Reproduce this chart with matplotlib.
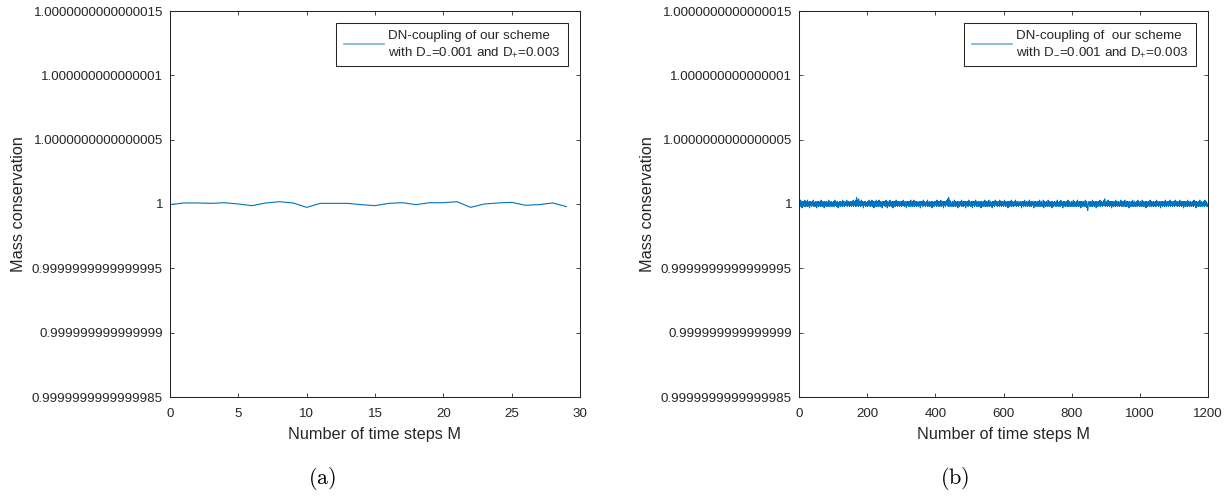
import numpy as np
import matplotlib
matplotlib.use("Agg")
import matplotlib.pyplot as plt

plt.rcParams['font.family'] = ['Liberation Sans', 'DejaVu Sans']
plt.rcParams['mathtext.fontset'] = 'custom'
plt.rcParams['mathtext.rm'] = 'Liberation Sans'
plt.rcParams['mathtext.it'] = 'Liberation Sans:italic'
plt.rcParams['mathtext.bf'] = 'Liberation Sans:bold'

# Mass deviation from 1, in units of 1e-16 (panel a, M = 0..29)
mass_dev_a = [-0.05, 0.08, 0.08, 0.05, 0.10, 0.00, -0.13, 0.08, 0.18, 0.08,
              -0.26, 0.05, 0.05, 0.05, -0.05, -0.13, 0.05, 0.10, -0.05, 0.10,
              0.10, 0.18, -0.26, 0.00, 0.08, 0.13, -0.10, -0.05, 0.08, -0.20]

# Mass deviation from 1, in units of 1e-17 (panel b, M = 0..1200)
mass_dev_b = [
    1, -2, 0, 2, -1, 3, -2, 1, 0, -3, 2, 1, -1, 0, 2, -2, 1, 3, -1, 0, -2, 2, 1, -1, 0, 3, -2, 0, 1, -1, 2, -3, 1, 0, 2, -1, 1, -2, 0, 2, 1, -1, 3, 0, -2, 1, 0, -1, 2, -2,
    0, 1, -3, 2, 0, -1, 1, 2, -2, 0, 1, -1, 2, 0, -2, 3, -1, 0, 1, -2, 2, 1, -1, 0, -3, 1, 2, 0, -1, 1, -2, 2, 0, 1, -1, -2, 1, 3, -1, 0, 2, -2, 1, 0, -1, 2, 1, -2, 0, 1,
    -1, 2, 0, -2, 1, 3, -1, 0, 2, -1, 1, -2, 0, 2, 1, -3, 0, 1, -1, 2, 0, -2, 1, 2, -1, 0, 1, -2, 3, 0, -1, 1, 2, -2, 0, 1, -1, 0, 2, -1, 3, 1, -2, 0, 1, 2, -1, 0, -2, 1,
    2, 0, -1, 1, -2, 2, 1, 0, -1, 3, -2, 1, 0, 2, -1, 1, 3, -2, 2, 5, 1, -1, 3, 2, -2, 4, 0, 1, -1, 2, 0, -2, 1, 3, -1, 0, 2, -1, 1, -3, 0, 2, 1, -1, 0, 2, -2, 1, 0, -1,
    1, -2, 2, 0, -1, 1, 3, -1, 0, -2, 2, 1, -1, 0, 3, -2, 1, 0, 2, -1, -3, 1, 0, 2, -1, 1, -2, 3, 0, 1, -1, 2, -2, 0, 1, 3, -1, 0, -2, 1, 2, -1, 0, 1, -3, 2, 0, -1, 1, 2,
    -1, 0, 2, -2, 1, 3, -1, 2, 0, -3, 1, 2, -1, 0, 1, -2, 2, 3, -1, 0, 1, -2, 0, 2, -1, 1, -3, 2, 0, 1, -1, 2, -2, 1, 0, 3, -1, 0, 2, -2, 1, -1, 0, 2, 1, -2, 0, 1, -1, 2,
    0, -2, 1, 2, -1, 0, 3, -1, 1, -2, 0, 2, 1, -1, 0, -3, 2, 1, 0, -1, 2, -2, 1, 0, 2, -1, -2, 1, 3, 0, -1, 1, -2, 2, 0, 1, -1, 3, -2, 0, 1, 2, -1, 0, -2, 1, 2, 0, -1, 1,
    -2, 1, 0, 2, -1, 1, -3, 2, 0, 1, -1, 2, 0, -2, 1, 3, -1, 0, 2, -1, 1, -2, 0, 1, 2, -1, 0, 3, -2, 1, 0, -1, 2, 1, -2, 0, 1, -1, 2, 0, -3, 1, 2, -1, 0, 1, -2, 2, 0, 1,
    -1, 2, 0, 1, -2, 3, -1, 0, 2, -1, 1, -2, 2, 0, 1, -1, 3, -2, 0, 2, 1, -1, 0, 2, -3, 1, 0, 2, -1, 1, -2, 2, 0, 1, 3, -1, 4, 2, -2, 5, 1, -1, 3, -2, 0, 2, 1, -1, 0, -2,
    1, 2, -1, 0, -2, 1, 3, -1, 0, 2, -2, 1, 0, -1, 2, 1, -3, 0, 2, -1, 1, -2, 0, 2, 1, -1, 0, 3, -2, 1, 0, -1, 2, -2, 1, 0, 2, -1, 1, -3, 2, 0, 1, -1, 2, 0, -2, 1, 3, -1,
    0, 2, -1, 1, -2, 0, 2, 1, -1, -3, 2, 0, 1, -1, 2, -2, 0, 1, 3, -1, 0, 2, -2, 1, -1, 0, 2, 1, -2, 0, -1, 2, 1, 0, -3, 1, 2, -1, 0, 1, -2, 2, 0, 1, -1, 3, -2, 0, 1, 2,
    -1, 0, -2, 1, 2, -1, 0, 3, -2, 1, 0, -1, 2, 1, -2, 0, 1, -3, 2, 0, 1, -1, 2, -2, 0, 1, 3, -1, 0, 2, -1, 1, -2, 0, 2, 1, -1, 0, -2, 3, 1, -1, 0, 2, -2, 1, 0, -1, 2, 1,
    -2, 0, 1, 3, -1, 0, 2, -2, 1, -1, 0, 2, 1, -3, 0, 2, -1, 1, -2, 2, 0, 1, -1, 3, -2, 0, 1, 2, -1, 0, -2, 1, 2, -1, 0, 3, -1, 1, -2, 0, 2, 1, -1, 0, -2, 2, 1, 0, -1, 1,
    2, -1, 0, -3, 1, 2, -1, 0, 2, -2, 1, 0, 3, -1, 1, -2, 0, 2, 1, -1, 0, -2, 2, 1, -1, 0, 3, -2, 1, 0, -1, 2, -2, 0, 1, 2, -1, 0, 1, -3, 2, 0, -1, 1, 2, -2, 0, 1, -1, 2,
    0, -2, 1, 2, -1, 0, 3, -2, 1, 0, -1, 2, 1, -2, 0, -1, 2, 3, -3, 1, 0, 2, -1, 1, -2, 0, 2, 1, -1, 0, -2, 3, 1, -1, 0, 2, -2, 1, 0, -1, 2, 1, -3, 0, 2, -1, 1, -2, 0, 1,
    2, -1, 0, 1, -2, 2, 0, -1, 3, 1, -2, 0, 1, -1, 2, 0, -2, 1, 3, -1, 0, 2, -1, 1, -3, 0, 2, 1, -1, 0, 2, -2, 1, 0, -1, 2, 1, -2, 0, 3, -1, 1, -2, 0, 2, 1, -1, 0, -2, 1,
    2, 0, -1, 1, -2, 3, 0, -1, 2, 1, -2, 0, 1, -1, 2, -2, 0, 3, 1, -1, 0, -2, 2, 1, -1, 0, 2, -3, 1, 0, 2, -1, 1, -2, 0, 2, 1, -1, 0, -2, 3, 1, -1, 0, 2, -3, -1, -5, -2, 1,
    0, 2, -1, 1, -2, 0, 2, 1, -1, 0, -2, 3, 1, -1, 0, 2, -2, 1, 0, -1, 2, 1, -3, 0, 2, -1, 1, -2, 0, 2, 1, -1, 0, 3, -2, 1, 0, -1, 2, 1, -2, 0, 1, -1, 2, 3, -1, 4, 1, -2,
    0, 1, -1, 2, 0, -2, 1, 3, -1, 0, 2, -2, 1, 0, -1, 2, 1, -3, 0, 2, -1, 1, -2, 0, 2, 1, -1, 0, -2, 3, 1, -1, 0, 2, -2, 1, 0, -1, 2, 1, -2, 0, 1, -1, 3, 0, -2, 1, 2, -1,
    0, -2, 1, 2, -1, 0, 3, -2, 1, 0, -1, 2, -2, 1, 0, 2, -1, 1, -3, 0, 2, 1, -1, 0, -2, 2, 1, -1, 0, 3, -2, 1, 0, -1, 2, 1, -2, 0, 1, -1, 2, 0, -2, 1, 3, -1, 0, 2, -1, 1,
    -2, 0, 2, 1, -1, 0, -2, 3, 1, -1, 0, 2, -2, 1, 0, -1, 2, 1, -3, 0, 2, -1, 1, -2, 0, 2, 1, -1, 0, -2, 3, 1, -1, 0, 2, -2, 1, 0, -1, 2, 1, -2, 0, 1, -1, 2, 0, -2, 1, 3,
    -1, 0, 2, -1, 1, -2, 0, 2, 1, -1, 0, -3, 2, 1, -1, 0, 2, -2, 1, 0, -1, 2, 1, -2, 0, 3, -1, 1, -2, 0, 2, 1, -1, 0, -2, 2, 1, -1, 0, 3, -2, 1, 0, -1, 2, 1, -2, 0, 1, -1,
    2, 0, -2, 1, 3, -1, 0, 2, -1, 1, -2, 0, 2, 1, -1, 0, -2, 3, 1, -1, 0, 2, -2, 1, 0, -1, 2, 1, -3, 0, 2, -1, 1, -2, 0, 2, 1, -1, 0, -2, 3, 1, -1, 0, 2, -2, 1, 0, -1, 2,
    1, -2, 0, 1, -1, 2, 0, -2, 1, 3, -1, 0, 2, -1, 1, -3, 0, 2, 1, -1, 0, -2, 2, 1, -1, 0, 3, -2, 1, 0, -1, 2, 1, -2, 0, 1, -1, 2, 0, -2, 1, 3, -1, 0, 2, -1, 1, -2, 0, -2,
    -1,
]

# y-axis ticks (deviation in units of 1e-16) and their printed values
ytick_pos = [-15, -10, -5, 0, 5, 10, 15]
ytick_labels = ['0.9999999999999985', '0.999999999999999', '0.9999999999999995',
                '1', '1.0000000000000005', '1.000000000000001', '1.0000000000000015']

xticks_a = [0, 5, 10, 15, 20, 25, 30]
xticks_b = [0, 200, 400, 600, 800, 1000, 1200]

legend_a = 'DN-coupling of our scheme\nwith D$_{-}$=0.001 and D$_{+}$=0.003'
legend_b = 'DN-coupling of  our scheme\nwith D$_{-}$=0.001 and D$_{+}$=0.003'

LINE = '#0072BD'
INK = '#262626'

W, H = 1232, 496
fig = plt.figure(figsize=(W / 100, H / 100), dpi=100)

def make_axes(left_px, right_px):
    return fig.add_axes([left_px / W, 1 - 397 / H, (right_px - left_px) / W, 386 / H])

ax_a = make_axes(170, 580)
ax_b = make_axes(799, 1208)

x_a = np.arange(len(mass_dev_a))
x_b = np.arange(len(mass_dev_b))
y_b = np.array(mass_dev_b) * 0.1

ax_a.plot(x_a, mass_dev_a, color=LINE, lw=0.8, label=legend_a)
ax_b.plot(x_b, y_b, color=LINE, lw=0.8, label=legend_b)

for ax, xt, xmax, lab, cap, cx in [(ax_a, xticks_a, 30, legend_a, '(a)', 322),
                                   (ax_b, xticks_b, 1200, legend_b, '(b)', 955)]:
    ax.set_xlim(0, xmax)
    ax.set_ylim(-15, 15)
    ax.set_xticks(xt)
    ax.set_yticks(ytick_pos)
    ax.set_yticklabels(ytick_labels)
    ax.tick_params(direction='in', length=3, width=0.6, top=True, right=True,
                   labelsize=9.6, colors=INK, pad=5)
    ax.tick_params(axis='x', pad=8)
    for sp in ax.spines.values():
        sp.set_color(INK)
        sp.set_linewidth(0.75)
    ax.set_xlabel('Number of time steps M', fontsize=11.7, color=INK, labelpad=5)
    ax.set_ylabel('Mass conservation', fontsize=11.7, color=INK)
    ax.yaxis.set_label_coords(-0.352, 0.5)
    leg = ax.legend(loc='upper right', fontsize=9.6, frameon=True, fancybox=False,
                    framealpha=1, edgecolor=INK, handlelength=3.0, handletextpad=0.35,
                    borderpad=0.55, borderaxespad=0.9)
    leg.get_frame().set_linewidth(0.75)
    for t in leg.get_texts():
        t.set_color(INK)
        t.set_linespacing(1.35)
    for ln in leg.get_lines():
        ln.set_alpha(0.55)
        ln.set_linewidth(1.2)
    fig.text(cx / W, 1 - 479 / H, r'$\mathrm{' + cap + '}$', fontsize=16,
             ha='center', va='center', math_fontfamily='cm', color='black')

fig.savefig('out.png', dpi=100)
